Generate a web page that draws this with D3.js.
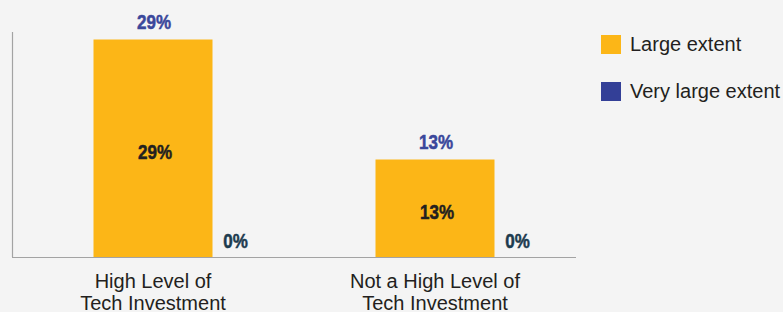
<!DOCTYPE html>
<html>
<head>
<meta charset="utf-8">
<script src="https://cdn.jsdelivr.net/npm/d3@7"></script>
<style>
  html, body { margin: 0; padding: 0; background: #f4f4f4; }
  svg { display: block; font-family: "Liberation Sans", Arial, sans-serif; }
</style>
</head>
<body>
<div id="chart"></div>
<script>
// data
var categories = [["High Level of", "Tech Investment"], ["Not a High Level of", "Tech Investment"]];
var largeExtent = [29, 13];
var veryLargeExtent = [0, 0];
var seriesNames = ["Large extent", "Very large extent"];
var yMax = 30;

var width = 783, height = 312;
var colors = ["#fcb617", "#333f97"];

var svg = d3.select("#chart").append("svg")
  .attr("width", width)
  .attr("height", height);

svg.append("rect").attr("width", width).attr("height", height).attr("fill", "#f4f4f4");

var keys = categories.map(function(c){ return c.join(" "); });

var x = d3.scaleBand()
  .domain(keys)
  .range([12, 576])
  .paddingInner(0.578)
  .paddingOuter(0.289);

var y = d3.scaleLinear()
  .domain([0, yMax])
  .range([257, 32]);

// axes lines
svg.append("line")
  .attr("x1", 12.5).attr("x2", 12.5)
  .attr("y1", y(yMax)).attr("y2", y(0))
  .attr("stroke", "#a3a3a3").attr("stroke-width", 1.2);
svg.append("line")
  .attr("x1", 12).attr("x2", 576)
  .attr("y1", y(0) + 0.5).attr("y2", y(0) + 0.5)
  .attr("stroke", "#a3a3a3").attr("stroke-width", 1.2);

// bars, stacked
var rows = keys.map(function(k, i){
  return { key: k, large: largeExtent[i], veryLarge: veryLargeExtent[i] };
});

svg.selectAll("rect.large")
  .data(rows)
  .enter().append("rect")
  .attr("class", "large")
  .attr("x", function(d){ return x(d.key); })
  .attr("width", x.bandwidth())
  .attr("y", function(d){ return y(d.large); })
  .attr("height", function(d){ return y(0) - y(d.large); })
  .attr("fill", colors[0]);

svg.selectAll("rect.vlarge")
  .data(rows)
  .enter().append("rect")
  .attr("class", "vlarge")
  .attr("x", function(d){ return x(d.key); })
  .attr("width", x.bandwidth())
  .attr("y", function(d){ return y(d.large + d.veryLarge); })
  .attr("height", function(d){ return y(d.large) - y(d.large + d.veryLarge); })
  .attr("fill", colors[1]);

// condensed bold value label
function valueLabel(cls, xf, yf, fill, tf){
  svg.selectAll("text." + cls)
    .data(rows)
    .enter().append("text")
    .attr("class", cls)
    .attr("transform", function(d){ return "translate(" + xf(d) + "," + yf(d) + ") scale(0.85,1)"; })
    .attr("text-anchor", "middle")
    .style("font-weight", "bold")
    .style("font-size", "20px")
    .attr("fill", fill)
    .attr("stroke", fill)
    .attr("stroke-width", 0.5)
    .text(tf);
}

// inside labels
valueLabel("inner",
  function(d){ return x(d.key) + x.bandwidth() / 2 + 2; },
  function(d){ return (y(d.large) + y(0)) / 2 + 11; },
  "#231f20",
  function(d){ return d.large + "%"; });

// total labels on top
valueLabel("total",
  function(d){ return x(d.key) + x.bandwidth() / 2 + 1; },
  function(d){ return y(d.large + d.veryLarge) - 11; },
  "#3a479b",
  function(d){ return (d.large + d.veryLarge) + "%"; });

// very large extent labels beside the bar
valueLabel("vl",
  function(d){ return x(d.key) + x.bandwidth() + 23; },
  function(d){ return y(d.veryLarge) - 9; },
  "#1d3b4f",
  function(d){ return d.veryLarge + "%"; });

// category labels
var cat = svg.selectAll("text.cat")
  .data(categories)
  .enter().append("text")
  .attr("class", "cat")
  .attr("x", function(d, i){ return x(keys[i]) + x.bandwidth() / 2; })
  .attr("y", 288)
  .attr("text-anchor", "middle")
  .style("font-size", "20px")
  .attr("fill", "#231f20");
cat.selectAll("tspan")
  .data(function(d){ return d; })
  .enter().append("tspan")
  .attr("x", function(){ return d3.select(this.parentNode).attr("x"); })
  .attr("dy", function(d, i){ return i == 0 ? 0 : 22; })
  .text(function(d){ return d; });

// legend
var legend = svg.selectAll("g.legend")
  .data(seriesNames)
  .enter().append("g")
  .attr("class", "legend")
  .attr("transform", function(d, i){ return "translate(601," + (35 + i * 47) + ")"; });
legend.append("rect")
  .attr("width", 20).attr("height", 19)
  .attr("fill", function(d, i){ return colors[i]; });
legend.append("text")
  .attr("x", 29).attr("y", 16)
  .style("font-size", "20px")
  .attr("fill", "#231f20")
  .text(function(d){ return d; });
</script>
</body>
</html>
